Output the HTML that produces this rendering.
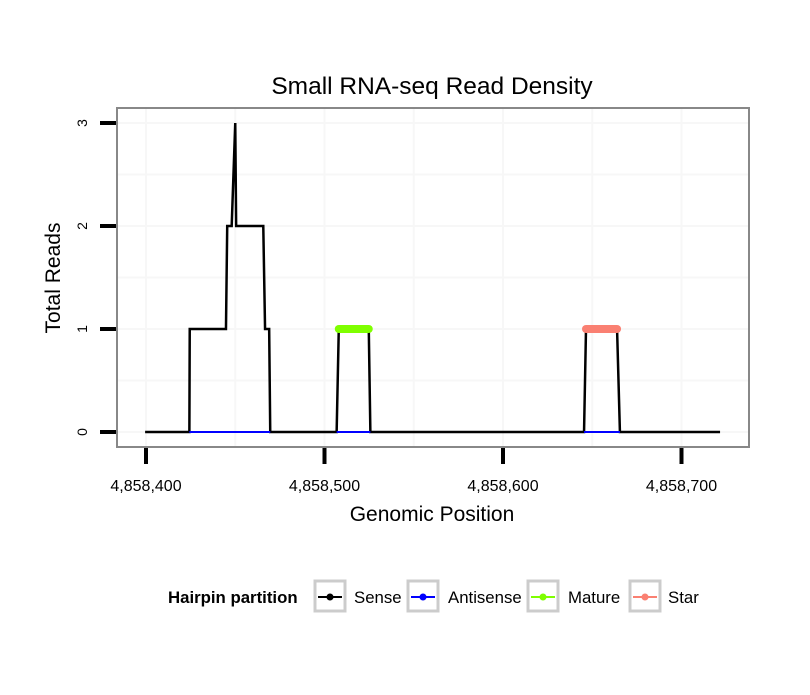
<!DOCTYPE html>
<html><head><meta charset="utf-8"><style>
body{margin:0;background:#fff;}
svg text{font-family:"Liberation Sans",sans-serif;}
</style></head><body>
<svg width="810" height="690" viewBox="0 0 810 690" id="c">
<rect width="810" height="690" fill="#fff"/>
<g id="grid"></g>
<g id="series"></g>
<rect x="117" y="108" width="632" height="339" fill="none" stroke="#888" stroke-width="2"/>
<g id="axes"></g>
<text x="432" y="94" font-size="24.5" text-anchor="middle">Small RNA-seq Read Density</text>
<text x="432" y="521" font-size="21" text-anchor="middle">Genomic Position</text>
<text transform="translate(60,278) rotate(-90)" font-size="21" text-anchor="middle">Total Reads</text>
<g>
<text x="168" y="603" font-size="16.8" font-weight="bold">Hairpin partition</text>
<g><rect x="315" y="581" width="30" height="30" fill="none" stroke="#ccc" stroke-width="3"/><line x1="318" y1="597" x2="342" y2="597" stroke="#000" stroke-width="2"/><circle cx="330" cy="597" r="3.5" fill="#000"/><text x="354" y="603" font-size="16.8">Sense</text></g>
<g><rect x="408" y="581" width="30" height="30" fill="none" stroke="#ccc" stroke-width="3"/><line x1="411" y1="597" x2="435" y2="597" stroke="#00f" stroke-width="2"/><circle cx="423" cy="597" r="3.5" fill="#00f"/><text x="448" y="603" font-size="16.8">Antisense</text></g>
<g><rect x="528" y="581" width="30" height="30" fill="none" stroke="#ccc" stroke-width="3"/><line x1="531" y1="597" x2="555" y2="597" stroke="#7fff00" stroke-width="2"/><circle cx="543" cy="597" r="3.5" fill="#7fff00"/><text x="568" y="603" font-size="16.8">Mature</text></g>
<g><rect x="630" y="581" width="30" height="30" fill="none" stroke="#ccc" stroke-width="3"/><line x1="633" y1="597" x2="657" y2="597" stroke="#fa8072" stroke-width="2"/><circle cx="645" cy="597" r="3.5" fill="#fa8072"/><text x="668" y="603" font-size="16.8">Star</text></g>
</g>
</svg>
<script>
const xTicks=[4858400,4858500,4858600,4858700];
const xTickLabels=["4,858,400","4,858,500","4,858,600","4,858,700"];
const yTicks=[0,1,2,3];
const senseX=[399.5,424.3,424.5,444.8,445.5,448,450,450.5,465.7,466.7,469,469.6,506.8,508,524.8,525.7,645.4,646.5,663.9,665.5,721.6];
const senseY=[0,0,1,1,2,2,3,2,2,1,1,0,0,1,1,0,0,1,1,0,0];
const antiStart=[424.3,506.8,645.4];
const antiEnd=[469.6,525.7,665.5];
const matureX=[508,524.8]; const matureY=[1,1];
const starX=[646.5,663.9]; const starY=[1,1];
const X=v=>146+(v-400)*1.785;
const Y=v=>432-v*103;
const ns="http://www.w3.org/2000/svg";
function mk(p,t,a){const e=document.createElementNS(ns,t);for(const k in a)e.setAttribute(k,a[k]);document.getElementById(p).appendChild(e);return e;}
for(let v=0;v<=3.01;v+=0.5){const e=mk('grid','line',{x1:117,x2:749,y1:Y(v),y2:Y(v),stroke:'#f7f7f7','stroke-width':2});

}
for(let v=400;v<=750;v+=50){const px=X(v);if(px<117||px>749)continue;const e=mk('grid','line',{x1:px,x2:px,y1:108,y2:447,stroke:'#f7f7f7','stroke-width':2});

}
xTicks.forEach((t,i)=>{const px=X(t-4858000);
const l=mk('axes','line',{x1:px,x2:px,y1:448,y2:464,stroke:'#000','stroke-width':4});


const tx=mk('axes','text',{x:px,y:491,'font-size':16,'text-anchor':'middle'});tx.textContent=xTickLabels[i];

});
yTicks.forEach(t=>{const py=Y(t);
const l=mk('axes','line',{x1:100,x2:116,y1:py,y2:py,stroke:'#000','stroke-width':4});


const tx=mk('axes','text',{transform:`translate(87,${py}) rotate(-90)`,'font-size':14,'text-anchor':'middle'});tx.textContent=t;

});
const sp=mk('series','polyline',{points:senseX.map((x,i)=>X(x)+','+Y(senseY[i])).join(' '),fill:'none',stroke:'#000','stroke-width':2.5,'stroke-linejoin':'miter'});


antiStart.forEach((s,i)=>{const e=mk('series','line',{x1:X(s),x2:X(antiEnd[i]),y1:Y(0),y2:Y(0),stroke:'#00f','stroke-width':2});

});
const m=mk('series','polyline',{points:matureX.map((x,i)=>X(x)+','+Y(matureY[i])).join(' '),fill:'none',stroke:'#7fff00','stroke-width':8,'stroke-linecap':'round'});


const s=mk('series','polyline',{points:starX.map((x,i)=>X(x)+','+Y(starY[i])).join(' '),fill:'none',stroke:'#fa8072','stroke-width':8,'stroke-linecap':'round'});


</script>
</body></html>
